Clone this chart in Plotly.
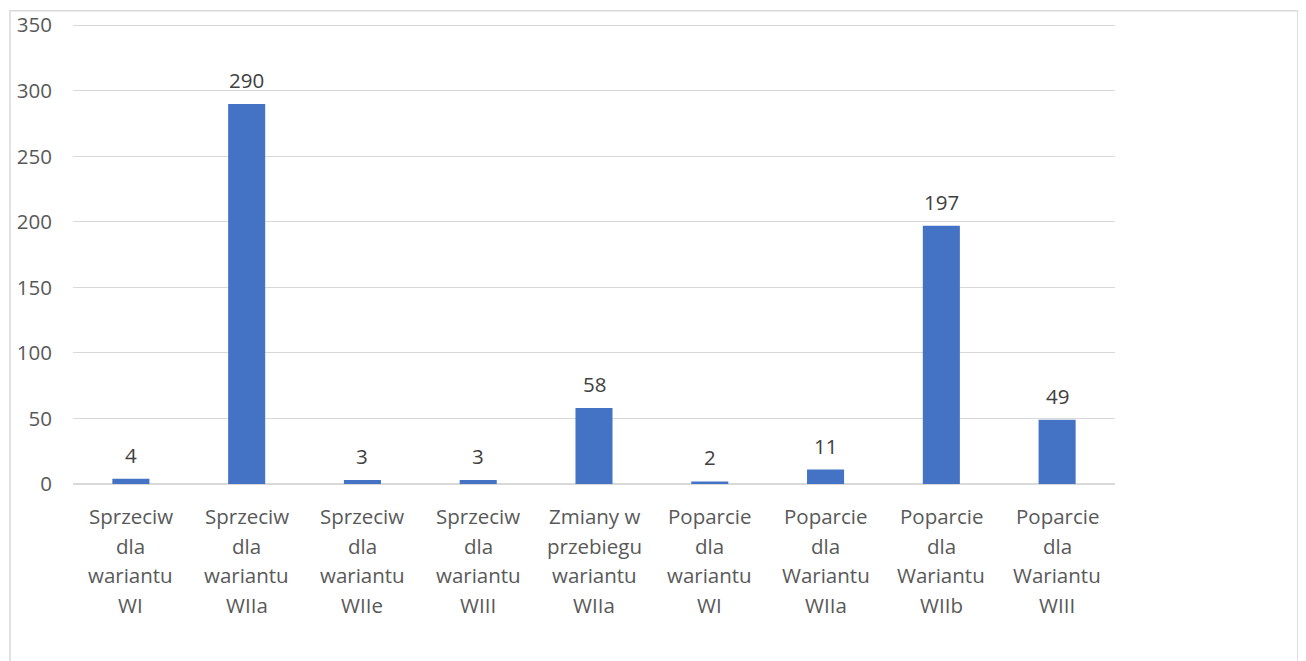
import plotly.graph_objects as go

categories = [
    ["Sprzeciw", "dla", "wariantu", "WI"],
    ["Sprzeciw", "dla", "wariantu", "WIIa"],
    ["Sprzeciw", "dla", "wariantu", "WIIe"],
    ["Sprzeciw", "dla", "wariantu", "WIII"],
    ["Zmiany w", "przebiegu", "wariantu", "WIIa"],
    ["Poparcie", "dla", "wariantu", "WI"],
    ["Poparcie", "dla", "Wariantu", "WIIa"],
    ["Poparcie", "dla", "Wariantu", "WIIb"],
    ["Poparcie", "dla", "Wariantu", "WIII"],
]
values = [4, 290, 3, 3, 58, 2, 11, 197, 49]
y_ticks = [0, 50, 100, 150, 200, 250, 300, 350]

cat_keys = [" ".join(c) for c in categories]
FONT = "Open Sans"
FSIZE = 20.5
TEXT_COLOR = "#595959"

fig = go.Figure()
fig.add_trace(go.Bar(
    x=cat_keys, y=values,
    marker=dict(color="#4472C4", line=dict(width=0)),
    cliponaxis=False,
))

annotations = []
for key, v in zip(cat_keys, values):
    annotations.append(dict(
        x=key, xref="x", y=v, yref="y",
        text=str(v), showarrow=False,
        yanchor="middle", xanchor="center", yshift=24,
        font=dict(family=FONT, size=FSIZE, color="#404040"),
    ))
for key, lines in zip(cat_keys, categories):
    for j, line in enumerate(lines):
        annotations.append(dict(
            x=key, xref="x", y=0, yref="paper",
            text=line, showarrow=False,
            yanchor="middle", xanchor="center",
            yshift=-(32 + 29.5 * j),
            font=dict(family=FONT, size=FSIZE, color=TEXT_COLOR),
        ))

fig.update_layout(
    width=1306, height=661,
    margin=dict(l=65, r=199, t=16.2, b=184.5),
    paper_bgcolor="white", plot_bgcolor="white",
    bargap=0.68,
    showlegend=False,
    annotations=annotations,
    xaxis=dict(showticklabels=False, showgrid=False, showline=True,
               linecolor="#d9d9d9", linewidth=1, ticks="", automargin=False),
    yaxis=dict(range=[0, 351], tickvals=y_ticks, showgrid=True,
               gridcolor="#d9d9d9", gridwidth=1, zeroline=True,
               zerolinecolor="#d9d9d9", showline=False, automargin=False,
               tickfont=dict(family=FONT, size=FSIZE, color=TEXT_COLOR),
               ticklabelstandoff=20),
    shapes=[dict(type="rect", xref="paper", yref="paper",
                 x0=-0.0605, x1=1.1756, y0=-0.42, y1=1.0287,
                 line=dict(color="#d9d9d9", width=1.5), layer="below")],
)

fig.write_html("out.html")
